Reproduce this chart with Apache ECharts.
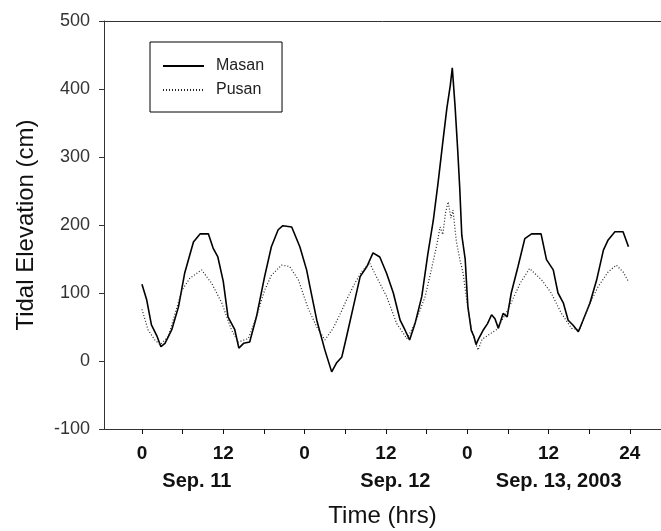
<!DOCTYPE html>
<html>
<head>
<meta charset="utf-8">
<script src="https://cdn.jsdelivr.net/npm/echarts@6/dist/echarts.min.js"></script>
<style>
    html, body { margin: 0; padding: 0; background: #fff; }
    #main { width: 661px; height: 531px; }
</style>
</head>
<body>
<div id="main"></div>
<script>
'use strict';

// hours since 0h Sep. 11, 2003
var masanHours = [0, 0.7, 1.4, 2.2, 2.8, 3.4, 4.4, 5.4, 6.3, 7.6, 8.6, 9.8, 10.5, 11.2, 12.0, 12.7, 13.7, 14.3, 15.0, 15.9,
    16.9, 18.1, 19.1, 20.1, 20.8, 22.1, 23.3, 24.3, 24.8, 25.8, 27.0, 28.0, 28.7, 29.5, 30.2, 31.2, 32.2, 33.2, 34.1, 35.1,
    36.1, 37.1, 38.1, 38.8, 39.5, 40.3, 41.3, 42.2, 43.0, 43.7, 44.4, 45.0, 45.5, 45.8, 46.2, 46.6, 46.9, 47.2, 47.7, 48.1,
    48.6, 49.0, 49.3, 49.6, 50.4, 51.0, 51.6, 52.1, 52.6, 53.3, 53.9, 54.5, 55.5, 56.5, 57.5, 58.9, 59.7, 60.7, 61.4, 62.2,
    62.9, 63.6, 64.4, 65.1, 66.1, 67.1, 68.1, 68.8, 69.8, 71.0, 71.8];
var masanLevels = [113, 90, 53, 37, 21, 26, 46, 80, 129, 175, 187, 187, 166, 153, 117, 65, 46, 19, 26, 28,
    65, 124, 168, 193, 199, 197, 168, 134, 109, 60, 16, -16, -3, 6, 36, 80, 124, 139, 159, 153,
    129, 100, 60, 46, 31, 55, 95, 158, 207, 262, 322, 372, 405, 431, 376, 310, 254, 185, 150, 80,
    45, 36, 24, 31, 46, 55, 68, 62, 48, 70, 65, 100, 139, 180, 187, 187, 149, 134, 100, 85,
    60, 53, 43, 60, 85, 119, 163, 178, 190, 190, 168];

var pusanHours = [0, 0.9, 1.9, 2.7, 3.9, 4.9, 5.9, 7.1, 8.8, 10.3, 11.8, 13.2, 14.2, 15.7, 16.9, 18.1, 19.1, 20.6, 21.8, 23.1,
    24.5, 25.8, 27.0, 28.2, 29.2, 30.2, 31.4, 32.4, 33.6, 34.6, 36.1, 37.6, 39.1, 40.3, 41.8, 42.7, 43.5, 44.0, 44.4, 44.8,
    45.2, 45.6, 45.9, 46.4, 46.9, 47.4, 48.0, 48.6, 49.1, 49.6, 50.2, 51.1, 52.3, 54.0, 55.8, 57.2, 59.0, 60.4, 61.9, 63.4,
    64.6, 65.9, 67.3, 68.8, 70.0, 71.0, 71.8];
var pusanLevels = [76, 46, 31, 24, 36, 70, 104, 122, 134, 114, 85, 46, 28, 33, 65, 104, 126, 141, 139, 119,
    78, 50, 31, 48, 68, 90, 114, 131, 144, 124, 95, 55, 33, 55, 95, 134, 170, 197, 186, 218,
    234, 210, 222, 176, 150, 129, 84, 48, 30, 16, 32, 38, 46, 75, 114, 136, 119, 100, 70, 48,
    46, 80, 109, 131, 141, 131, 117];

var hourTicks = [0, 6, 12, 18, 24, 30, 36, 42, 48, 54, 60, 66, 72];
var hourLabelValues = [0, 12, 24, 36, 48, 60, 72];
var hourLabels = ['0', '12', '0', '12', '0', '12', '24'];
var dateLabelValues = [8.1, 37.4, 61.5];
var dateLabels = ['Sep. 11', 'Sep. 12', 'Sep. 13, 2003'];

var seriesNames = ['Masan', 'Pusan'];

function pairs(xs, ys) {
    var out = [];
    for (var i = 0; i < xs.length; i++) {
        out.push([xs[i], ys[i]]);
    }
    return out;
}

var FONT = '"Liberation Sans", Arial, sans-serif';
var AXIS_COLOR = '#333';

var option = {
    backgroundColor: '#fff',
    animation: false,
    grid: { left: 104, top: 21, right: 0, bottom: 102, containLabel: false, outerBoundsMode: 'none' },
    legend: {
        orient: 'vertical',
        left: 150,
        top: 42,
        padding: [16, 18, 14, 12],
        itemWidth: 41,
        itemHeight: 14,
        itemGap: 8,
        borderColor: '#000',
        borderWidth: 1,
        data: seriesNames,
        itemStyle: { opacity: 0, color: 'transparent', borderWidth: 0 },
        textStyle: { fontFamily: FONT, fontSize: 16, color: '#222', padding: [0, 0, 0, 7] }
    },
    xAxis: [{
        type: 'value',
        min: -5.6,
        max: 76.6,
        name: 'Time (hrs)',
        nameLocation: 'middle',
        nameGap: 75,
        nameTextStyle: { fontFamily: FONT, fontSize: 24, color: '#111' },
        axisLine: { onZero: false, lineStyle: { color: AXIS_COLOR, width: 1 } },
        axisTick: { show: true, length: 5, customValues: hourTicks, lineStyle: { color: '#111' } },
        axisLabel: {
            customValues: hourLabelValues,
            margin: 15,
            fontFamily: FONT, fontSize: 19, fontWeight: 'bold', color: '#111',
            formatter: function (v) {
                var i = hourLabelValues.indexOf(v);
                return i >= 0 ? hourLabels[i] : '';
            }
        },
        splitLine: { show: false }
    }, {
        type: 'value',
        position: 'bottom',
        min: -5.6,
        max: 76.6,
        axisLine: { show: false, onZero: false },
        axisTick: { show: false },
        axisLabel: {
            customValues: dateLabelValues,
            margin: 42,
            fontFamily: FONT, fontSize: 20, fontWeight: 'bold', color: '#111',
            formatter: function (v) {
                var i = dateLabelValues.indexOf(v);
                return i >= 0 ? dateLabels[i] : '';
            }
        },
        splitLine: { show: false }
    }, {
        type: 'value',
        position: 'top',
        min: -5.6,
        max: 76.6,
        axisLine: { show: true, onZero: false, lineStyle: { color: AXIS_COLOR, width: 1 } },
        axisTick: { show: false },
        axisLabel: { show: false },
        splitLine: { show: false }
    }],
    yAxis: {
        type: 'value',
        min: -100,
        max: 500,
        interval: 100,
        name: 'Tidal Elevation (cm)',
        nameLocation: 'middle',
        nameGap: 66,
        nameTextStyle: { fontFamily: FONT, fontSize: 24, color: '#111' },
        axisLine: { show: true, onZero: false, lineStyle: { color: AXIS_COLOR, width: 1 } },
        axisTick: { show: true, length: 5, lineStyle: { color: AXIS_COLOR } },
        axisLabel: { margin: 14, fontFamily: FONT, fontSize: 18, color: '#333' },
        splitLine: { show: false }
    },
    series: [{
        name: seriesNames[0],
        type: 'line',
        xAxisIndex: 0,
        symbol: 'none',
        data: pairs(masanHours, masanLevels),
        lineStyle: { color: '#000', width: 1.6, type: 'solid' },
        itemStyle: { color: '#000' }
    }, {
        name: seriesNames[1],
        type: 'line',
        xAxisIndex: 0,
        symbol: 'none',
        data: pairs(pusanHours, pusanLevels),
        lineStyle: { color: '#222', width: 1.2, type: [1, 2] },
        itemStyle: { color: '#222' }
    }]
};

var chart = echarts.init(document.getElementById('main'), null, { renderer: 'canvas' });
chart.setOption(option);
</script>
</body>
</html>
